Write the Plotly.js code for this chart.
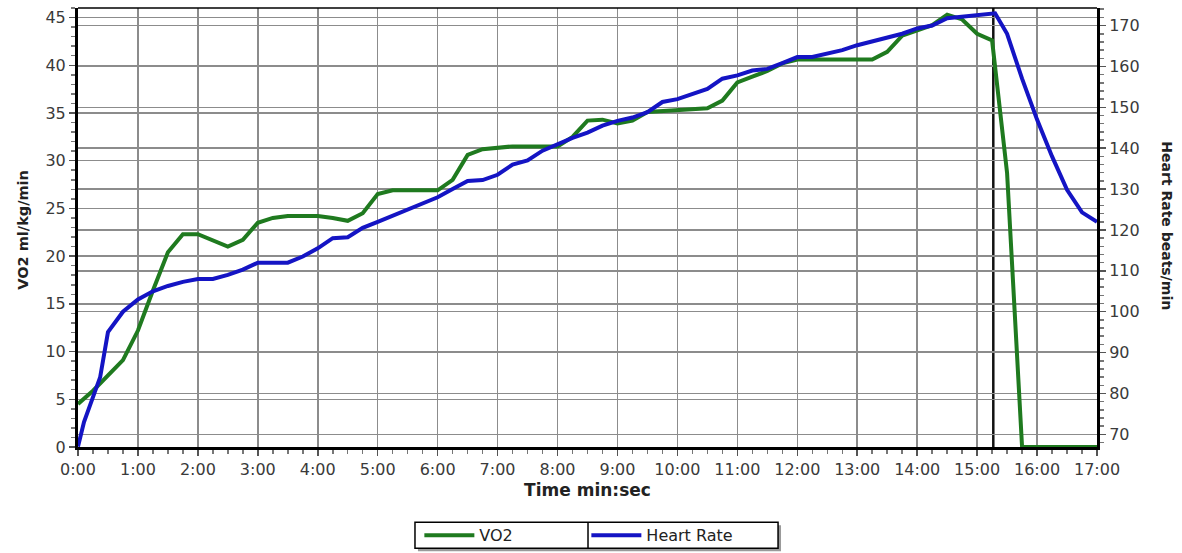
<!DOCTYPE html>
<html><head><meta charset="utf-8">
<script src="https://cdn.plot.ly/plotly-3.0.1.min.js"></script>
<style>html,body{margin:0;padding:0;background:#fff}</style>
</head><body><div id="chart" style="width:1182px;height:553px"></div>
<script>
// ---- data (time in minutes) ----
const timeTickVals = [0,1,2,3,4,5,6,7,8,9,10,11,12,13,14,15,16,17];
const timeTickText = ["0:00","1:00","2:00","3:00","4:00","5:00","6:00","7:00","8:00","9:00","10:00","11:00","12:00","13:00","14:00","15:00","16:00","17:00"];

const vo2Time   = [0, 0.25, 0.75, 1.0, 1.25, 1.5, 1.75, 2.0, 2.5, 2.75, 3.0, 3.25, 3.5, 4.0, 4.25, 4.5, 4.75, 5.0, 5.25, 6.0, 6.25, 6.5, 6.75, 7.25, 8.0, 8.25, 8.5, 8.75, 9.0, 9.25, 9.5, 10.0, 10.5, 10.75, 11.0, 11.25, 11.5, 11.75, 12.0, 13.25, 13.5, 13.75, 14.0, 14.25, 14.5, 14.75, 15.0, 15.25, 15.5, 15.75, 17.0];
const vo2Values = [4.5, 5.9, 9.1, 12.2, 16.4, 20.4, 22.3, 22.3, 21.0, 21.7, 23.5, 24.0, 24.2, 24.2, 24.0, 23.7, 24.5, 26.5, 26.9, 26.9, 28.0, 30.6, 31.2, 31.5, 31.5, 32.5, 34.2, 34.3, 33.9, 34.2, 35.1, 35.3, 35.5, 36.3, 38.2, 38.8, 39.4, 40.2, 40.6, 40.6, 41.4, 43.1, 43.7, 44.2, 45.3, 44.8, 43.3, 42.6, 28.7, 0, 0];

const hrTime   = [0, 0.1, 0.37, 0.5, 0.75, 1.0, 1.25, 1.5, 1.75, 2.0, 2.25, 2.5, 2.75, 3.0, 3.5, 3.75, 4.0, 4.25, 4.5, 4.75, 5.0, 5.25, 5.5, 5.75, 6.0, 6.25, 6.5, 6.75, 7.0, 7.25, 7.5, 7.75, 8.0, 8.25, 8.5, 8.75, 9.0, 9.25, 9.5, 9.75, 10.0, 10.25, 10.5, 10.75, 11.0, 11.25, 11.5, 11.75, 12.0, 12.25, 12.5, 12.75, 13.0, 13.25, 13.5, 13.75, 14.0, 14.25, 14.5, 14.75, 15.0, 15.3, 15.5, 15.75, 16.0, 16.25, 16.5, 16.75, 17.0];
const hrValues = [67, 73, 84, 95, 100, 103, 105, 106.3, 107.3, 108, 108, 109, 110.3, 112, 112, 113.5, 115.5, 118, 118.2, 120.5, 122, 123.5, 125, 126.5, 128, 130, 132, 132.2, 133.5, 136, 137, 139.4, 141, 142.5, 143.8, 145.5, 146.7, 147.5, 148.8, 151.3, 152, 153.2, 154.5, 157, 157.8, 159, 159.4, 160.8, 162.3, 162.3, 163.2, 164, 165.2, 166.2, 167, 168, 169.3, 170, 171.8, 172.2, 172.4, 173, 168, 157, 147, 138, 129.8, 124.3, 122];

const testEndTime = [15.27];

const seriesNames = ["VO2", "Heart Rate"];
const seriesColors = ["#1f7a1f", "#1414c4"];

const FONT = "DejaVu Sans, Verdana, sans-serif";
const GRID = "#8c8c8c";

const traces = [
  {x: vo2Time, y: vo2Values, name: seriesNames[0], type: "scatter", mode: "lines",
   line: {color: seriesColors[0], width: 4}, yaxis: "y"},
  {x: hrTime, y: hrValues, name: seriesNames[1], type: "scatter", mode: "lines",
   line: {color: seriesColors[1], width: 4}, yaxis: "y2"}
];

const layout = {
  width: 1182, height: 553,
  margin: {l: 78, r: 85, t: 8, b: 106, autoexpand: false},
  paper_bgcolor: "#fff", plot_bgcolor: "#fff",
  font: {family: FONT, size: 16, color: "#333"},
  showlegend: true,
  xaxis: {
    range: [0, 17], tickmode: "array", tickvals: timeTickVals, ticktext: timeTickText,
    showgrid: true, gridcolor: GRID, gridwidth: 1.5,
    showline: true, linecolor: "#000", linewidth: 3,
    ticks: "outside", ticklen: 6, tickcolor: "#555", tickwidth: 1.5,
    minor: {tickmode: "linear", tick0: 0, dtick: 0.25, ticks: "outside", ticklen: 4, tickcolor: "#777", showgrid: false},
    zeroline: false, fixedrange: true, ticklabelstandoff: 0,
    tickfont: {family: FONT, size: 16, color: "#3a3a3a"},
    title: {text: "<b>Time min:sec</b>", font: {family: FONT, size: 17, color: "#222"}, standoff: 6}
  },
  yaxis: {
    range: [0, 46], tick0: 0, dtick: 5,
    showgrid: true, gridcolor: GRID, gridwidth: 1.5,
    showline: true, linecolor: "#000", linewidth: 3,
    ticks: "outside", ticklen: 6, tickcolor: "#555", tickwidth: 1.5,
    minor: {tick0: 0, dtick: 1, ticks: "outside", ticklen: 4, tickcolor: "#777", showgrid: false},
    zeroline: false, fixedrange: true,
    tickfont: {family: FONT, size: 16, color: "#3a3a3a"}
  },
  yaxis2: {
    overlaying: "y", side: "right",
    range: [66.9, 174.3], tick0: 70, dtick: 10,
    showgrid: true, gridcolor: GRID, gridwidth: 1.5,
    showline: true, linecolor: "#000", linewidth: 3,
    ticks: "outside", ticklen: 6, tickcolor: "#555", tickwidth: 1.5,
    minor: {tick0: 70, dtick: 2, ticks: "outside", ticklen: 4, tickcolor: "#777", showgrid: false},
    zeroline: false, fixedrange: true,
    tickfont: {family: FONT, size: 16, color: "#3a3a3a"}
  },
  legend: {
    orientation: "h", x: 0.335, xanchor: "left", y: -0.201, yanchor: "middle",
    bgcolor: "rgba(0,0,0,0)", borderwidth: 0,
    font: {family: FONT, size: 16, color: "#222"},
    itemwidth: 50,
    entrywidth: 102, entrywidthmode: "pixels", traceorder: "normal"
  },
  annotations: [
    {text: "<b>VO2 ml/kg/min</b>", xref: "paper", yref: "paper", x: -0.054, y: 0.495,
     xanchor: "center", yanchor: "middle",
     textangle: -90, showarrow: false, font: {family: FONT, size: 14.5, color: "#222"}},
    {text: "<b>Heart Rate beats/min</b>", xref: "paper", yref: "paper", x: 1.0687, y: 0.505,
     xanchor: "center", yanchor: "middle",
     textangle: 90, showarrow: false, font: {family: FONT, size: 14, color: "#222"}}
  ],
  shapes: [
    {type: "line", xref: "paper", yref: "paper", x0: 0, x1: 1, y0: 1, y1: 1, line: {color: "#000", width: 1.5}},
    {type: "line", xref: "x", yref: "paper", x0: testEndTime[0], x1: testEndTime[0], y0: 0, y1: 1,
     line: {color: "#111", width: 2.5}, layer: "between"},
    {type: "rect", xref: "paper", yref: "paper", x0: 0.3336, x1: 0.6899, y0: -0.2376, y1: -0.178,
     fillcolor: "#9a9a9a", line: {width: 0}},
    {type: "rect", xref: "paper", yref: "paper", x0: 0.3307, x1: 0.687, y0: -0.2308, y1: -0.1715,
     fillcolor: "#fff", line: {color: "#000", width: 1.5}},
    {type: "line", xref: "paper", yref: "paper", x0: 0.5005, x1: 0.5005, y0: -0.2308, y1: -0.1715,
     line: {color: "#000", width: 1.5}}
  ]
};

Plotly.newPlot("chart", traces, layout, {displayModeBar: false, staticPlot: true});
</script>
</body></html>
